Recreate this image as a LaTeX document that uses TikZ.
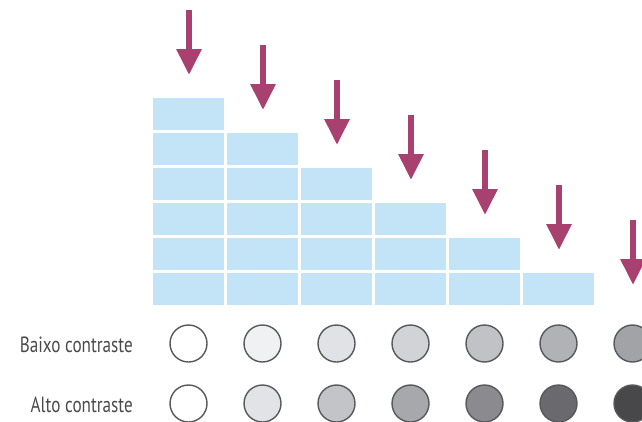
\documentclass[tikz,border=0pt]{standalone}
\usepackage{fontspec}
\setmainfont{PT Sans}
\usetikzlibrary{arrows.meta}
\definecolor{boxblue}{RGB}{194,228,246}
\definecolor{arrowred}{RGB}{168,64,112}
\definecolor{rimgray}{RGB}{88,88,90}
\definecolor{labelgray}{RGB}{74,74,76}
\tikzset{
  block/.style={fill=boxblue, minimum width=71pt, minimum height=32pt, inner sep=0pt},
  pointer/.style={draw=arrowred, line width=6pt, -{Triangle[width=24pt,length=26pt]}},
  dot/.style={circle, draw=rimgray, line width=1.4pt, minimum size=37pt, inner sep=0pt},
  label/.style={anchor=base east, text=labelgray, font=\fontsize{22}{26}\selectfont, inner sep=0pt}
}
\begin{document}
\begin{tikzpicture}[x=1pt, y=-1pt]
\useasboundingbox (0,0) rectangle (642,421);
% blue columns
\node[block] (b11) at (188.5,289) {};
\node[block] (b12) at (188.5,254) {};
\node[block] (b13) at (188.5,219) {};
\node[block] (b14) at (188.5,184) {};
\node[block] (b15) at (188.5,149) {};
\node[block] (b16) at (188.5,114) {};
\node[block] (b21) at (262.5,289) {};
\node[block] (b22) at (262.5,254) {};
\node[block] (b23) at (262.5,219) {};
\node[block] (b24) at (262.5,184) {};
\node[block] (b25) at (262.5,149) {};
\node[block] (b31) at (336.5,289) {};
\node[block] (b32) at (336.5,254) {};
\node[block] (b33) at (336.5,219) {};
\node[block] (b34) at (336.5,184) {};
\node[block] (b41) at (410.5,289) {};
\node[block] (b42) at (410.5,254) {};
\node[block] (b43) at (410.5,219) {};
\node[block] (b51) at (484.5,289) {};
\node[block] (b52) at (484.5,254) {};
\node[block] (b61) at (558.5,289) {};
% arrows
\coordinate (p1) at (189,10);  \coordinate (q1) at (189,75);
\coordinate (p2) at (263,45);  \coordinate (q2) at (263,110);
\coordinate (p3) at (337,80);  \coordinate (q3) at (337,145);
\coordinate (p4) at (411,115); \coordinate (q4) at (411,180);
\coordinate (p5) at (485,150); \coordinate (q5) at (485,215);
\coordinate (p6) at (559,185); \coordinate (q6) at (559,250);
\coordinate (p7) at (633,220); \coordinate (q7) at (633,285);
\draw[pointer] (p1) -- (q1);
\draw[pointer] (p2) -- (q2);
\draw[pointer] (p3) -- (q3);
\draw[pointer] (p4) -- (q4);
\draw[pointer] (p5) -- (q5);
\draw[pointer] (p6) -- (q6);
\draw[pointer] (p7) -- (q7);
% labels
\node[label] (low) at (133,352) {\scalebox{0.78}[1]{Baixo contraste}};
\node[label] (high) at (133,412) {\scalebox{0.78}[1]{Alto contraste}};
% low contrast
\node[dot, fill=white] (l1) at (188.5,343.5) {};
\node[dot, fill={rgb,255:red,240;green,241;blue,243}] (l2) at (262.5,343.5) {};
\node[dot, fill={rgb,255:red,225;green,226;blue,230}] (l3) at (336.5,343.5) {};
\node[dot, fill={rgb,255:red,210;green,211;blue,215}] (l4) at (410.5,343.5) {};
\node[dot, fill={rgb,255:red,193;green,194;blue,198}] (l5) at (484.5,343.5) {};
\node[dot, fill={rgb,255:red,177;green,178;blue,182}] (l6) at (558.5,343.5) {};
\node[dot, fill={rgb,255:red,162;green,163;blue,167}] (l7) at (632.5,343.5) {};
% high contrast
\node[dot, fill=white] (h1) at (188.5,403.5) {};
\node[dot, fill={rgb,255:red,226;green,227;blue,230}] (h2) at (262.5,403.5) {};
\node[dot, fill={rgb,255:red,195;green,196;blue,200}] (h3) at (336.5,403.5) {};
\node[dot, fill={rgb,255:red,167;green,168;blue,172}] (h4) at (410.5,403.5) {};
\node[dot, fill={rgb,255:red,139;green,139;blue,143}] (h5) at (484.5,403.5) {};
\node[dot, fill={rgb,255:red,106;green,106;blue,110}] (h6) at (558.5,403.5) {};
\node[dot, fill={rgb,255:red,72;green,72;blue,74}] (h7) at (632.5,403.5) {};
\end{tikzpicture}
\end{document}
